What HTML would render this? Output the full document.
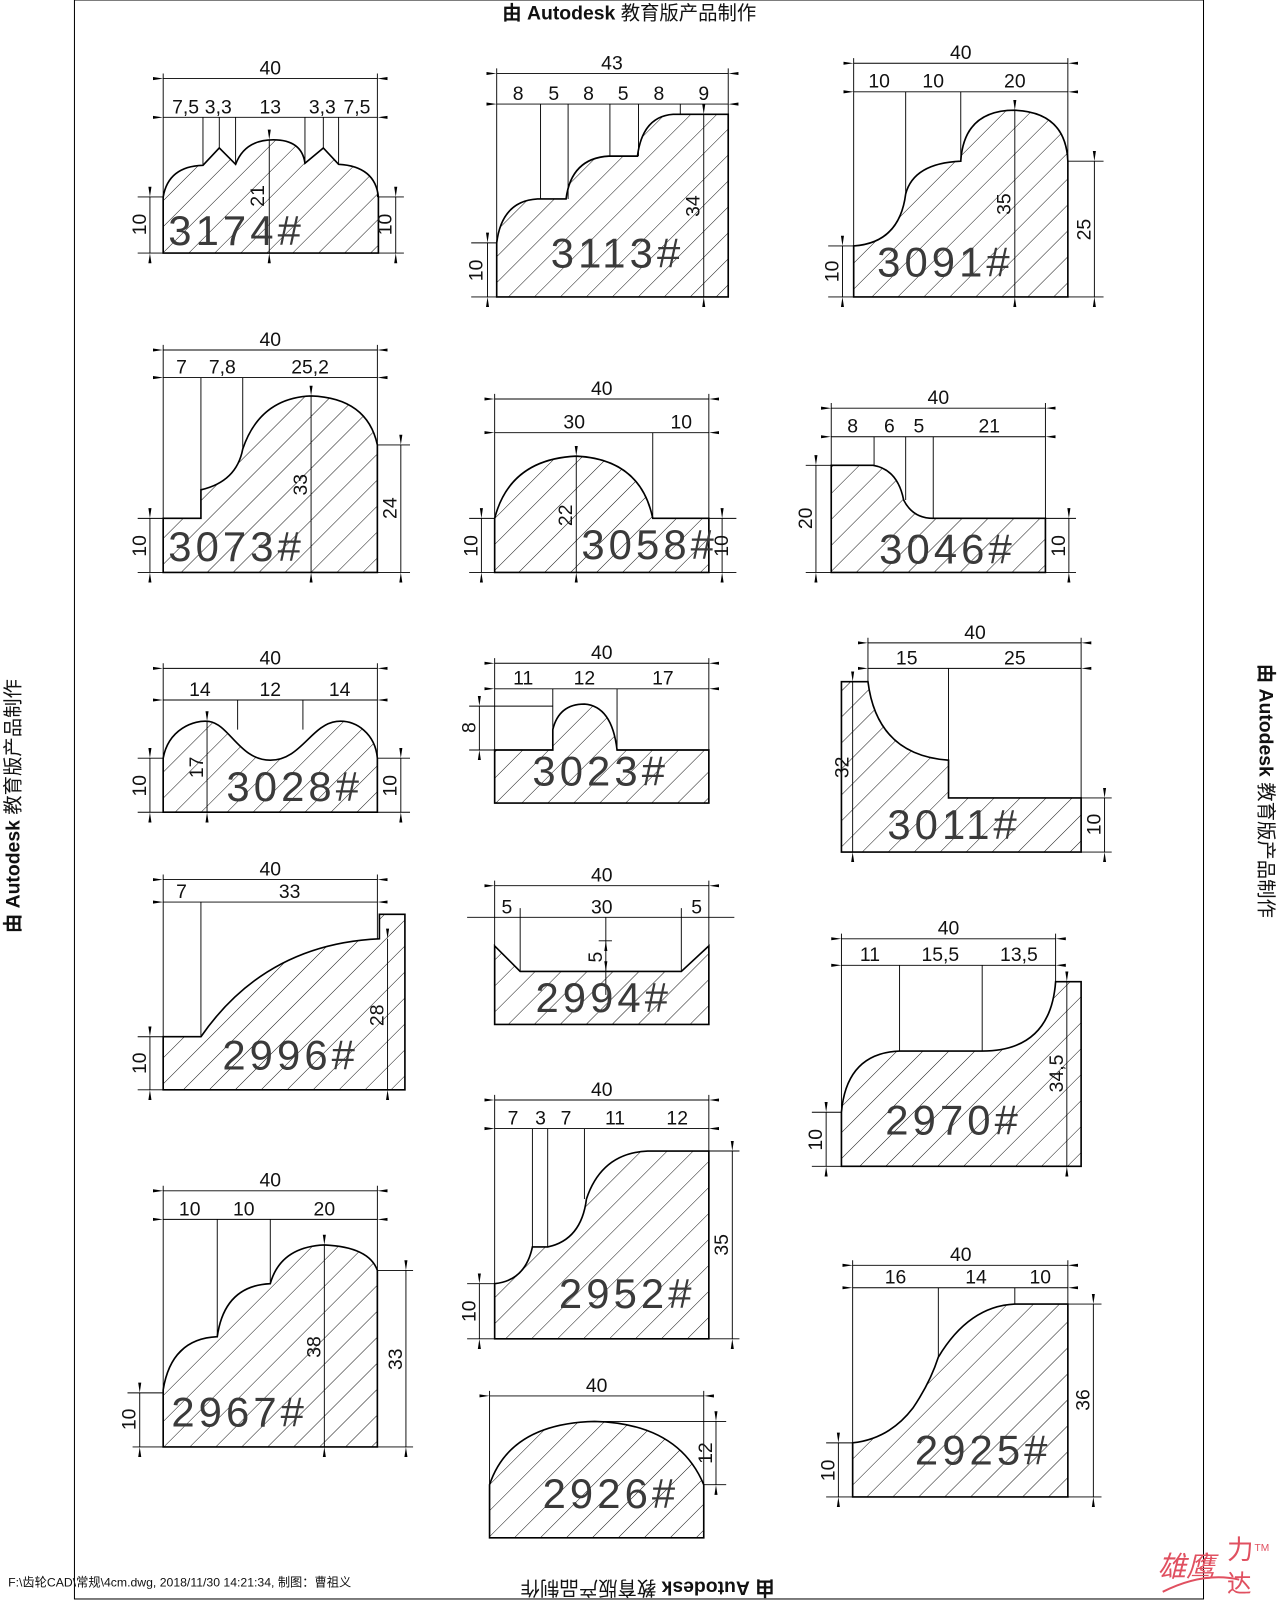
<!DOCTYPE html>
<html><head><meta charset="utf-8"><style>
html,body{margin:0;padding:0;background:#fff}
svg{display:block}
.p{fill:url(#h);stroke:#000;stroke-width:1.6}
.d{stroke:#000;stroke-width:0.9;fill:none}
.e{stroke:#000;stroke-width:0.9}
text{font-family:"Liberation Sans","Noto Sans CJK SC",sans-serif;fill:#111}
.t{font-size:19px;text-anchor:middle}
.l{font-size:41px;letter-spacing:4px;fill:#3a3a3a}
</style></head><body>
<svg width="1280" height="1600" viewBox="0 0 1255 1568" preserveAspectRatio="none" xmlns="http://www.w3.org/2000/svg">
<defs>
<pattern id="h" patternUnits="userSpaceOnUse" width="18" height="18" patternTransform="rotate(45)"><line x1="0" y1="0" x2="0" y2="18" stroke="#000" stroke-width="0.9"/></pattern>
<marker id="a" viewBox="0 0 10 4" refX="0" refY="2" markerWidth="10" markerHeight="4" markerUnits="userSpaceOnUse" orient="auto-start-reverse"><path d="M0,2 L10,0.5 L10,3.5Z" fill="#000"/></marker>
</defs>
<rect x="73" y="0" width="1107" height="1567" fill="none" stroke="#000" stroke-width="1"/>
<text x="617" y="19" font-size="19" text-anchor="middle"><tspan font-weight="bold">由 Autodesk</tspan> 教育版产品制作</text>
<text transform="translate(19,790) rotate(-90)" font-size="19" text-anchor="middle"><tspan font-weight="bold">由 Autodesk</tspan> 教育版产品制作</text>
<text transform="translate(1235,775) rotate(90)" font-size="19" text-anchor="middle"><tspan font-weight="bold">由 Autodesk</tspan> 教育版产品制作</text>
<text transform="translate(635,1550) rotate(180)" font-size="19" text-anchor="middle"><tspan font-weight="bold">由 Autodesk</tspan> 教育版产品制作</text>
<text x="8" y="1555" font-size="12">F:\齿轮CAD\常规\4cm.dwg, 2018/11/30 14:21:34, 制图：曹祖义</text>
<text x="1135" y="1545" font-size="28" style="fill:#e05060;font-style:italic">雄鹰</text>
<text x="1203" y="1528" font-size="26" style="fill:#e05060">力</text>
<text x="1203" y="1560" font-size="24" style="fill:#e05060">达</text>
<text x="1230" y="1520" font-size="10" style="fill:#e05060">TM</text>
<path d="M1140,1560 Q1180,1540 1215,1548" stroke="#e05060" fill="none" stroke-width="2"/>

<!-- 3174 -->
<path class="p" d="M160,248 V193 Q165,163 199,162 L215,145 L231,161 Q240,137 268,137 Q296,137 299,160 L317,145 L332,161 Q368,163 371,193 V248 Z"/>
<line class="d" x1="160" y1="77" x2="370" y2="77" marker-start="url(#a)" marker-end="url(#a)"/><text class="t" x="265" y="73">40</text>
<line class="d" x1="160" y1="115" x2="370" y2="115" marker-start="url(#a)" marker-end="url(#a)"/>
<text class="t" x="182" y="111">7,5</text><text class="t" x="214" y="111">3,3</text><text class="t" x="265" y="111">13</text><text class="t" x="316" y="111">3,3</text><text class="t" x="350" y="111">7,5</text>
<path class="e" d="M160,72V193 M370,72V193 M199,115V162 M215,115V145 M231,115V161 M299,115V160 M317,115V145 M332,115V161"/>
<line class="d" x1="264" y1="137" x2="264" y2="248" marker-start="url(#a)" marker-end="url(#a)"/><text class="t" transform="translate(259,192) rotate(-90)">21</text>
<line class="d" x1="147" y1="193" x2="147" y2="248" marker-start="url(#a)" marker-end="url(#a)"/><text class="t" transform="translate(143,220) rotate(-90)">10</text>
<line class="d" x1="388" y1="193" x2="388" y2="248" marker-start="url(#a)" marker-end="url(#a)"/><text class="t" transform="translate(384,220) rotate(-90)">10</text>
<path class="e" d="M135,193H160 M135,248H160 M370,193H396 M370,248H396"/>
<text class="l" x="165" y="240">3174#</text>

<!-- 3113 -->
<path class="p" d="M487,291 V238 Q492,197 527,195 H555 Q560,155 597,153 H625 Q630,114 660,112 H714 V291 Z"/>
<line class="d" x1="487" y1="72" x2="714" y2="72" marker-start="url(#a)" marker-end="url(#a)"/><text class="t" x="600" y="68">43</text>
<line class="d" x1="487" y1="102" x2="714" y2="102" marker-start="url(#a)" marker-end="url(#a)"/>
<text class="t" x="508" y="98">8</text><text class="t" x="543" y="98">5</text><text class="t" x="577" y="98">8</text><text class="t" x="611" y="98">5</text><text class="t" x="646" y="98">8</text><text class="t" x="690" y="98">9</text>
<path class="e" d="M487,67V238 M714,67V112 M530,102V195 M557,102V195 M598,102V153 M626,102V153 M667,102V112"/>
<line class="d" x1="690" y1="112" x2="690" y2="291" marker-start="url(#a)" marker-end="url(#a)"/><text class="t" transform="translate(686,202) rotate(-90)">34</text>
<line class="d" x1="478" y1="238" x2="478" y2="291" marker-start="url(#a)" marker-end="url(#a)"/><text class="t" transform="translate(473,265) rotate(-90)">10</text>
<path class="e" d="M462,238H487 M462,291H487"/>
<text class="l" x="540" y="262">3113#</text>

<!-- 3091 -->
<path class="p" d="M837,291 V241 Q882,238 888,190 Q896,160 942,158 Q945,108 995,108 Q1045,110 1047,158 V291 Z"/>
<line class="d" x1="837" y1="62" x2="1047" y2="62" marker-start="url(#a)" marker-end="url(#a)"/><text class="t" x="942" y="58">40</text>
<line class="d" x1="837" y1="90" x2="1047" y2="90" marker-start="url(#a)" marker-end="url(#a)"/>
<text class="t" x="862" y="86">10</text><text class="t" x="915" y="86">10</text><text class="t" x="995" y="86">20</text>
<path class="e" d="M837,57V241 M1047,57V158 M888,90V190 M942,90V158"/>
<line class="d" x1="995" y1="108" x2="995" y2="291" marker-start="url(#a)" marker-end="url(#a)"/><text class="t" transform="translate(991,200) rotate(-90)">35</text>
<line class="d" x1="1073" y1="158" x2="1073" y2="291" marker-start="url(#a)" marker-end="url(#a)"/><text class="t" transform="translate(1069,225) rotate(-90)">25</text>
<line class="d" x1="826" y1="241" x2="826" y2="291" marker-start="url(#a)" marker-end="url(#a)"/><text class="t" transform="translate(822,266) rotate(-90)">10</text>
<path class="e" d="M1047,158H1082 M1047,291H1082 M812,241H837 M812,291H837"/>
<text class="l" x="860" y="271">3091#</text>

<!-- 3073 -->
<path class="p" d="M160,561 V508 H197 V480 Q232,472 238,440 Q255,390 305,388 Q360,390 370,436 V561 Z"/>
<line class="d" x1="160" y1="343" x2="370" y2="343" marker-start="url(#a)" marker-end="url(#a)"/><text class="t" x="265" y="339">40</text>
<line class="d" x1="160" y1="370" x2="370" y2="370" marker-start="url(#a)" marker-end="url(#a)"/>
<text class="t" x="178" y="366">7</text><text class="t" x="218" y="366">7,8</text><text class="t" x="304" y="366">25,2</text>
<path class="e" d="M160,338V508 M370,338V436 M197,370V480 M238,370V440"/>
<line class="d" x1="305" y1="388" x2="305" y2="561" marker-start="url(#a)" marker-end="url(#a)"/><text class="t" transform="translate(301,475) rotate(-90)">33</text>
<line class="d" x1="393" y1="436" x2="393" y2="561" marker-start="url(#a)" marker-end="url(#a)"/><text class="t" transform="translate(389,498) rotate(-90)">24</text>
<line class="d" x1="147" y1="508" x2="147" y2="561" marker-start="url(#a)" marker-end="url(#a)"/><text class="t" transform="translate(143,535) rotate(-90)">10</text>
<path class="e" d="M135,508H160 M135,561H160 M370,436H402 M370,561H402"/>
<text class="l" x="165" y="550">3073#</text>

<!-- 3058 -->
<path class="p" d="M485,561 V508 Q500,450 565,447 Q628,450 640,508 H695 V561 Z"/>
<line class="d" x1="485" y1="391" x2="695" y2="391" marker-start="url(#a)" marker-end="url(#a)"/><text class="t" x="590" y="387">40</text>
<line class="d" x1="485" y1="424" x2="695" y2="424" marker-start="url(#a)" marker-end="url(#a)"/>
<text class="t" x="563" y="420">30</text><text class="t" x="668" y="420">10</text>
<path class="e" d="M485,386V508 M695,386V508 M640,424V508"/>
<line class="d" x1="565" y1="447" x2="565" y2="561" marker-start="url(#a)" marker-end="url(#a)"/><text class="t" transform="translate(561,505) rotate(-90)">22</text>
<line class="d" x1="472" y1="508" x2="472" y2="561" marker-start="url(#a)" marker-end="url(#a)"/><text class="t" transform="translate(468,535) rotate(-90)">10</text>
<line class="d" x1="708" y1="508" x2="708" y2="561" marker-start="url(#a)" marker-end="url(#a)"/><text class="t" transform="translate(714,535) rotate(-90)">10</text>
<path class="e" d="M460,508H485 M460,561H485 M695,508H722 M695,561H722"/>
<text class="l" x="570" y="548">3058#</text>

<!-- 3046 -->
<path class="p" d="M815,561 V456 H856 Q880,460 886,490 Q895,508 915,508 H1025 V561 Z"/>
<line class="d" x1="815" y1="400" x2="1025" y2="400" marker-start="url(#a)" marker-end="url(#a)"/><text class="t" x="920" y="396">40</text>
<line class="d" x1="815" y1="428" x2="1025" y2="428" marker-start="url(#a)" marker-end="url(#a)"/>
<text class="t" x="836" y="424">8</text><text class="t" x="872" y="424">6</text><text class="t" x="901" y="424">5</text><text class="t" x="970" y="424">21</text>
<path class="e" d="M815,395V456 M1025,395V508 M857,428V456 M888,428V490 M915,428V508"/>
<line class="d" x1="800" y1="456" x2="800" y2="561" marker-start="url(#a)" marker-end="url(#a)"/><text class="t" transform="translate(796,508) rotate(-90)">20</text>
<line class="d" x1="1048" y1="508" x2="1048" y2="561" marker-start="url(#a)" marker-end="url(#a)"/><text class="t" transform="translate(1044,535) rotate(-90)">10</text>
<path class="e" d="M790,456H815 M790,561H815 M1025,508H1055 M1025,561H1055"/>
<text class="l" x="862" y="552">3046#</text>

<!-- 3028 -->
<path class="p" d="M160,796 V743 C165,715 190,705 205,707 C225,710 235,745 265,745 C295,745 305,710 330,707 C350,705 368,720 370,743 V796 Z"/>
<line class="d" x1="160" y1="655" x2="370" y2="655" marker-start="url(#a)" marker-end="url(#a)"/><text class="t" x="265" y="651">40</text>
<line class="d" x1="160" y1="686" x2="370" y2="686" marker-start="url(#a)" marker-end="url(#a)"/>
<text class="t" x="196" y="682">14</text><text class="t" x="265" y="682">12</text><text class="t" x="333" y="682">14</text>
<path class="e" d="M160,650V743 M370,650V743 M233,686V715 M297,686V715"/>
<line class="d" x1="203" y1="707" x2="203" y2="796" marker-start="url(#a)" marker-end="url(#a)"/><text class="t" transform="translate(199,752) rotate(-90)">17</text>
<line class="d" x1="147" y1="743" x2="147" y2="796" marker-start="url(#a)" marker-end="url(#a)"/><text class="t" transform="translate(143,770) rotate(-90)">10</text>
<line class="d" x1="393" y1="743" x2="393" y2="796" marker-start="url(#a)" marker-end="url(#a)"/><text class="t" transform="translate(389,770) rotate(-90)">10</text>
<path class="e" d="M135,743H160 M135,796H160 M370,743H402 M370,796H402"/>
<text class="l" x="222" y="785">3028#</text>

<!-- 3023 -->
<path class="p" d="M485,787 V735 H542 V715 Q548,690 573,690 Q600,692 605,735 H695 V787 Z"/>
<line class="d" x1="485" y1="650" x2="695" y2="650" marker-start="url(#a)" marker-end="url(#a)"/><text class="t" x="590" y="646">40</text>
<line class="d" x1="485" y1="675" x2="695" y2="675" marker-start="url(#a)" marker-end="url(#a)"/>
<text class="t" x="513" y="671">11</text><text class="t" x="573" y="671">12</text><text class="t" x="650" y="671">17</text>
<path class="e" d="M485,645V735 M695,645V735 M542,675V715 M605,675V735 M460,692H542 M460,735H485"/>
<line class="d" x1="470" y1="692" x2="470" y2="735" marker-start="url(#a)" marker-end="url(#a)"/><text class="t" transform="translate(466,713) rotate(-90)">8</text>
<text class="l" x="522" y="770">3023#</text>

<!-- 3011 -->
<path class="p" d="M825,835 V668 H851 Q860,740 930,745 V782 H1060 V835 Z"/>
<line class="d" x1="851" y1="630" x2="1060" y2="630" marker-start="url(#a)" marker-end="url(#a)"/><text class="t" x="956" y="626">40</text>
<line class="d" x1="851" y1="655" x2="1060" y2="655" marker-start="url(#a)" marker-end="url(#a)"/>
<text class="t" x="889" y="651">15</text><text class="t" x="995" y="651">25</text>
<path class="e" d="M851,625V668 M1060,625V782 M930,655V745"/>
<line class="d" x1="836" y1="668" x2="836" y2="835" marker-start="url(#a)" marker-end="url(#a)"/><text class="t" transform="translate(832,752) rotate(-90)">32</text>
<line class="d" x1="1083" y1="782" x2="1083" y2="835" marker-start="url(#a)" marker-end="url(#a)"/><text class="t" transform="translate(1079,808) rotate(-90)">10</text>
<path class="e" d="M1060,782H1090 M1060,835H1090"/>
<text class="l" x="870" y="822">3011#</text>

<!-- 2996 -->
<path class="p" d="M160,1068 V1016 H197 Q260,925 372,920 V896 H397 V1068 Z"/>
<line class="d" x1="160" y1="862" x2="370" y2="862" marker-start="url(#a)" marker-end="url(#a)"/><text class="t" x="265" y="858">40</text>
<line class="d" x1="160" y1="884" x2="370" y2="884" marker-start="url(#a)" marker-end="url(#a)"/>
<text class="t" x="178" y="880">7</text><text class="t" x="284" y="880">33</text>
<path class="e" d="M160,857V1016 M370,857V920 M197,884V1016"/>
<line class="d" x1="380" y1="920" x2="380" y2="1068" marker-start="url(#a)" marker-end="url(#a)"/><text class="t" transform="translate(376,995) rotate(-90)">28</text>
<line class="d" x1="147" y1="1016" x2="147" y2="1068" marker-start="url(#a)" marker-end="url(#a)"/><text class="t" transform="translate(143,1042) rotate(-90)">10</text>
<path class="e" d="M135,1016H160 M135,1068H160"/>
<text class="l" x="218" y="1048">2996#</text>

<!-- 2994 -->
<path class="p" d="M485,1004 V927 L510,952 H668 L695,927 V1004 Z"/>
<line class="d" x1="485" y1="868" x2="695" y2="868" marker-start="url(#a)" marker-end="url(#a)"/><text class="t" x="590" y="864">40</text>
<line class="d" x1="458" y1="899" x2="720" y2="899"/>
<text class="t" x="497" y="895">5</text><text class="t" x="590" y="895">30</text><text class="t" x="683" y="895">5</text>
<path class="e" d="M485,863V927 M695,863V927 M510,890V952 M668,890V952 M587,922H600"/>
<line class="d" x1="594" y1="899" x2="594" y2="922" marker-end="url(#a)"/>
<line class="d" x1="594" y1="952" x2="594" y2="975" marker-start="url(#a)"/>
<line class="d" x1="594" y1="922" x2="594" y2="952"/>
<text class="t" transform="translate(590,938) rotate(-90)">5</text>
<text class="l" x="525" y="992">2994#</text>

<!-- 2970 -->
<path class="p" d="M825,1143 V1090 Q830,1032 882,1030 H963 Q1030,1030 1035,962 H1060 V1143 Z"/>
<line class="d" x1="825" y1="920" x2="1035" y2="920" marker-start="url(#a)" marker-end="url(#a)"/><text class="t" x="930" y="916">40</text>
<line class="d" x1="825" y1="946" x2="1035" y2="946" marker-start="url(#a)" marker-end="url(#a)"/>
<text class="t" x="853" y="942">11</text><text class="t" x="922" y="942">15,5</text><text class="t" x="999" y="942">13,5</text>
<path class="e" d="M825,915V1090 M1035,915V962 M882,946V1030 M963,946V1030"/>
<line class="d" x1="1046" y1="962" x2="1046" y2="1143" marker-start="url(#a)" marker-end="url(#a)"/><text class="t" transform="translate(1042,1052) rotate(-90)">34,5</text>
<line class="d" x1="810" y1="1090" x2="810" y2="1143" marker-start="url(#a)" marker-end="url(#a)"/><text class="t" transform="translate(806,1117) rotate(-90)">10</text>
<path class="e" d="M796,1090H825 M796,1143H825"/>
<text class="l" x="868" y="1112">2970#</text>

<!-- 2967 -->
<path class="p" d="M160,1418 V1362 Q168,1312 213,1310 Q220,1260 265,1258 Q275,1222 318,1220 Q362,1222 370,1245 V1418 Z"/>
<line class="d" x1="160" y1="1167" x2="370" y2="1167" marker-start="url(#a)" marker-end="url(#a)"/><text class="t" x="265" y="1163">40</text>
<line class="d" x1="160" y1="1195" x2="370" y2="1195" marker-start="url(#a)" marker-end="url(#a)"/>
<text class="t" x="186" y="1191">10</text><text class="t" x="239" y="1191">10</text><text class="t" x="318" y="1191">20</text>
<path class="e" d="M160,1162V1362 M370,1162V1245 M213,1195V1310 M265,1195V1258"/>
<line class="d" x1="318" y1="1220" x2="318" y2="1418" marker-start="url(#a)" marker-end="url(#a)"/><text class="t" transform="translate(314,1320) rotate(-90)">38</text>
<line class="d" x1="398" y1="1245" x2="398" y2="1418" marker-start="url(#a)" marker-end="url(#a)"/><text class="t" transform="translate(394,1332) rotate(-90)">33</text>
<line class="d" x1="137" y1="1365" x2="137" y2="1418" marker-start="url(#a)" marker-end="url(#a)"/><text class="t" transform="translate(133,1391) rotate(-90)">10</text>
<path class="e" d="M125,1365H160 M130,1418H160 M370,1245H405 M370,1418H405"/>
<text class="l" x="168" y="1398">2967#</text>

<!-- 2952 -->
<path class="p" d="M485,1312 V1258 Q515,1255 522,1222 H537 Q570,1215 575,1175 Q590,1130 635,1128 H695 V1312 Z"/>
<line class="d" x1="485" y1="1078" x2="695" y2="1078" marker-start="url(#a)" marker-end="url(#a)"/><text class="t" x="590" y="1074">40</text>
<line class="d" x1="485" y1="1106" x2="695" y2="1106" marker-start="url(#a)" marker-end="url(#a)"/>
<text class="t" x="503" y="1102">7</text><text class="t" x="530" y="1102">3</text><text class="t" x="555" y="1102">7</text><text class="t" x="603" y="1102">11</text><text class="t" x="664" y="1102">12</text>
<path class="e" d="M485,1073V1258 M695,1073V1128 M522,1106V1222 M537,1106V1222 M573,1106V1175"/>
<line class="d" x1="718" y1="1128" x2="718" y2="1312" marker-start="url(#a)" marker-end="url(#a)"/><text class="t" transform="translate(714,1220) rotate(-90)">35</text>
<line class="d" x1="470" y1="1258" x2="470" y2="1312" marker-start="url(#a)" marker-end="url(#a)"/><text class="t" transform="translate(466,1285) rotate(-90)">10</text>
<path class="e" d="M458,1258H485 M458,1312H485 M695,1128H725 M695,1312H725"/>
<text class="l" x="548" y="1282">2952#</text>

<!-- 2926 -->
<path class="p" d="M480,1507 V1455 Q500,1395 583,1393 Q665,1395 690,1455 V1507 Z"/>
<line class="d" x1="480" y1="1368" x2="690" y2="1368" marker-start="url(#a)" marker-end="url(#a)"/><text class="t" x="585" y="1364">40</text>
<path class="e" d="M480,1363V1455 M690,1363V1455 M583,1393H712 M690,1455H712"/>
<line class="d" x1="702" y1="1393" x2="702" y2="1455" marker-start="url(#a)" marker-end="url(#a)"/><text class="t" transform="translate(698,1424) rotate(-90)">12</text>
<text class="l" x="532" y="1478">2926#</text>

<!-- 2925 -->
<path class="p" d="M836,1467 V1414 Q872,1410 895,1380 Q912,1355 920,1330 Q950,1280 995,1278 H1047 V1467 Z"/>
<line class="d" x1="836" y1="1240" x2="1047" y2="1240" marker-start="url(#a)" marker-end="url(#a)"/><text class="t" x="942" y="1236">40</text>
<line class="d" x1="836" y1="1262" x2="1047" y2="1262" marker-start="url(#a)" marker-end="url(#a)"/>
<text class="t" x="878" y="1258">16</text><text class="t" x="957" y="1258">14</text><text class="t" x="1020" y="1258">10</text>
<path class="e" d="M836,1235V1414 M1047,1235V1278 M920,1262V1330 M995,1262V1278"/>
<line class="d" x1="1072" y1="1278" x2="1072" y2="1467" marker-start="url(#a)" marker-end="url(#a)"/><text class="t" transform="translate(1068,1372) rotate(-90)">36</text>
<line class="d" x1="822" y1="1414" x2="822" y2="1467" marker-start="url(#a)" marker-end="url(#a)"/><text class="t" transform="translate(818,1441) rotate(-90)">10</text>
<path class="e" d="M810,1414H836 M810,1467H836 M1047,1278H1080 M1047,1467H1080"/>
<text class="l" x="897" y="1435">2925#</text>
</svg>
</body></html>
